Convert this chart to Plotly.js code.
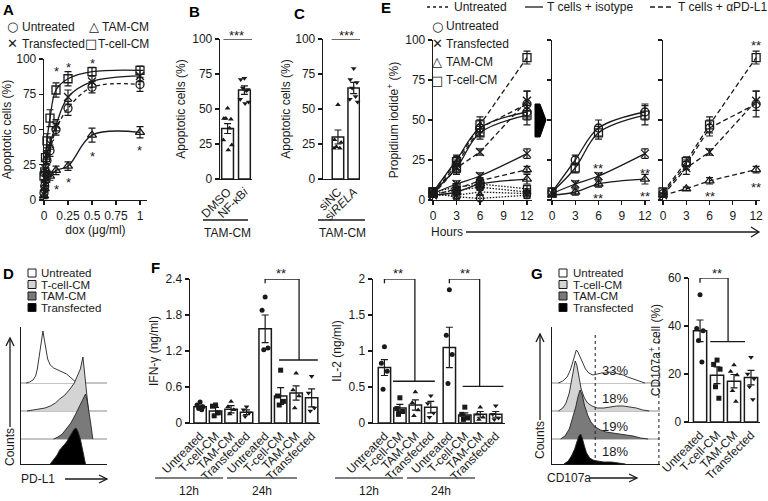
<!DOCTYPE html>
<html><head><meta charset="utf-8">
<script src="https://cdn.plot.ly/plotly-3.0.1.min.js"></script>
<style>html,body{margin:0;padding:0;background:#fff}#chart{width:768px;height:501px}</style>
</head><body><div id="chart"></div>
<script>
// ================= DATA =================
// Panel A: apoptosis vs dox dose
const doseA = [0, 0.0078, 0.0156, 0.031, 0.0625, 0.125, 0.25, 0.5, 1];
const aUntreated = [5, 10, 20, 28, 35, 50, 65, 80, 82];
const aUntreatedErr = [2, 2, 3, 3, 4, 4, 5, 4, 5];
const aTransfected = [4, 12, 22, 32, 40, 53, 73, 84, 88];
const aTransfectedErr = [2, 2, 3, 3, 4, 4, 5, 4, 4];
const aTam = [3, 8, 14, 18, 17, 21, 24, 46, 48];
const aTamErr = [2, 2, 2, 3, 3, 3, 3, 5, 4];
const aTcell = [17, 20, 30, 42, 58, 78, 86, 91, 92];
const aTcellErr = [3, 3, 4, 5, 6, 5, 5, 3, 3];
const aStarsUpDose = [0.125, 0.25, 0.5];
const aStarsUpY = [94, 97, 99.5];
const aStarsDownDose = [0.125, 0.25, 0.5, 1];
const aStarsDownY = [10.5, 15.5, 34, 38];

// Panel B
const bCats = ['DMSO', 'NF-κB<i>i</i>'];
const bMean = [36, 63.5];
const bErr = [3.5, 3];
const bPtsDMSO = [50.5, 43.3, 42.6, 43.3, 36.2, 27.9, 24.3, 20.7];
const bPtsNF = [72, 71, 64, 65, 63, 57, 55, 54];

// Panel C
const cCats = ['siNC', 'si<i>RELA</i>'];
const cMean = [30, 65];
const cErr = [5, 4];
const cPtsNC = [53, 28, 26, 23, 22, 22];
const cPtsRELA = [79, 71, 69, 65, 59, 57, 55];

// Panel E: propidium iodide over time
const eHours = [0, 3, 6, 12];
const eIsoUntreated = [5, 25, 45, 55];
const eIsoUntreatedErr = [2, 3, 5, 5];
const eIsoTcell = [5, 20, 42, 53];
const eIsoTcellErr = [2, 3, 4, 6];
const eIsoTransfected = [4, 10, 15, 29];
const eIsoTransfectedErr = [1, 2, 2, 3];
const eIsoTam = [3, 5, 10, 13];
const eIsoTamErr = [1, 2, 2, 3];
const ePdUntreated = [4, 22, 45, 60];
const ePdUntreatedErr = [2, 3, 5, 8];
const ePdTcell = [5, 24, 47, 89];
const ePdTcellErr = [2, 3, 5, 4];
const ePdTransfected = [3, 20, 30, 62];
const ePdTransfectedErr = [1, 4, 2, 6];
const ePdTam = [3, 7, 12, 19];
const ePdTamErr = [1, 1, 2, 2];
const eCtrlUntreated = [4, 2, 1, 3];
const eCtrlTransfected = [3, 3, 5, 4];
const eCtrlTam = [4, 6, 8, 5];
const eCtrlTcell = [5, 8, 10, 7];
const eCtrlErr = [1, 2, 2, 2];
const eMidStarsX = [6, 6, 12, 12];
const eMidStarsY = [22, 3.5, 19, 5];
const eRightStarsX = [6, 12, 12];
const eRightStarsY = [5, 99, 10.5];

// Panel D: PD-L1 histograms (bin centre, count)
const dUntreatedX = [6, 10, 14, 17, 19, 21, 23, 24.5, 25.5, 27, 29, 31, 34, 38, 43, 48, 53, 57, 61, 65];
const dUntreatedY = [0, 1, 3, 7, 14, 25, 40, 48, 52, 44, 32, 24, 18, 15, 13, 11, 9, 6, 3, 0];
const dTcellX = [7, 15, 22, 28, 34, 40, 45, 51, 57, 62, 66, 69, 71, 72, 73, 75, 77, 78.5];
const dTcellY = [0, 1, 2, 3, 5, 8, 12, 16, 22, 28, 36, 42, 50, 54, 46, 30, 12, 0];
const dTamX = [38, 43, 48, 53, 58, 63, 68, 72, 74, 75, 77, 79, 81, 83.5];
const dTamY = [0, 2, 5, 10, 16, 24, 33, 40, 43, 45, 38, 28, 16, 0];
const dTransX = [34, 38, 42, 45, 49, 53, 57, 60, 62, 64, 66, 69, 72, 75];
const dTransY = [0, 4, 9, 14, 18, 22, 28, 32, 35, 36, 33, 25, 12, 0];

// Panel F
const fCats = ['Untreated', 'T-cell-CM', 'TAM-CM', 'Transfected', 'Untreated', 'T-cell-CM', 'TAM-CM', 'Transfected'];
const fGroups = ['12h', '24h'];
const fIfnMean = [0.27, 0.20, 0.23, 0.18, 1.57, 0.45, 0.50, 0.42];
const fIfnErr = [0.03, 0.06, 0.06, 0.04, 0.23, 0.14, 0.12, 0.15];
const fIfnPts = [[0.35, 0.30, 0.27, 0.24, 0.22], [0.30, 0.28, 0.17, 0.12], [0.36, 0.27, 0.22, 0.15], [0.27, 0.22, 0.17, 0.11],
                 [2.10, 1.88, 1.25, 1.22], [0.88, 0.45, 0.36, 0.30], [0.83, 0.55, 0.45, 0.25], [0.78, 0.50, 0.25, 0.20]];
const fIl2Mean = [0.77, 0.21, 0.25, 0.22, 1.05, 0.11, 0.12, 0.12];
const fIl2Err = [0.11, 0.05, 0.07, 0.08, 0.28, 0.03, 0.04, 0.04];
const fIl2Pts = [[1.06, 0.83, 0.72, 0.47], [0.35, 0.20, 0.16, 0.12], [0.43, 0.28, 0.18, 0.10], [0.38, 0.27, 0.14, 0.08],
                 [1.85, 1.22, 0.95, 0.55], [0.22, 0.12, 0.07, 0.05], [0.22, 0.12, 0.08, 0.05], [0.24, 0.12, 0.07, 0.05]];

// Panel G
const gCats = ['Untreated', 'T-cell-CM', 'TAM-CM', 'Transfected'];
const gMean = [38, 19.5, 17, 18.5];
const gErr = [4.5, 3.5, 2.8, 3];
const gPts = [[53, 39, 38, 34, 25], [25.8, 24, 22, 14.7, 9.9], [23.7, 21, 19.6, 13, 8.5], [27, 20, 18, 14.7, 9.4]];
const gPct = ['33%', '18%', '19%', '18%'];
const gUntreatedX = [6, 10, 14, 17, 19, 21, 22.5, 24, 26, 28, 31, 34, 38, 42, 46, 50, 54, 58, 62, 66, 70, 75, 80, 86];
const gUntreatedY = [0, 2, 6, 13, 20, 27, 33, 31, 26, 20, 14, 10, 8, 9, 10, 10, 11, 10, 9, 8, 6, 4, 2, 0];
const gTcellX = [6, 10, 13, 16, 18, 20, 21.5, 23, 25, 27, 30, 33, 37, 42, 48, 54, 60, 66, 72, 78, 84, 90];
const gTcellY = [0, 3, 8, 18, 30, 42, 50, 46, 35, 22, 13, 8, 5, 3, 3, 4, 5, 5, 4, 3, 1, 0];
const gTamX = [8, 12, 16, 19, 22, 24, 26, 28, 30, 33, 36, 40, 45, 50, 56, 62, 68, 75, 82, 89];
const gTamY = [0, 3, 10, 20, 32, 42, 49, 44, 34, 24, 17, 12, 9, 7, 6, 5, 4, 3, 1, 0];
const gTransX = [11, 15, 18, 21, 23, 25, 26.5, 28, 30, 32, 35, 38, 42, 48, 55, 62, 68];
const gTransY = [0, 3, 8, 15, 22, 28, 30, 26, 18, 11, 6, 4, 3, 2, 2, 1, 0];

// ================= LAYOUT / STYLE =================
const W = 768, H = 501;
const FONT = '"Liberation Sans", Arial, Helvetica, sans-serif';
const SYMFONT = '"DejaVu Sans", sans-serif';
const INK = '#1a1a1a';
const HIST_OFFSETS = [81, 53, 25, 0]; // untreated, T-cell, TAM, transfected baselines
const HIST_FILLS = ['#ffffff', '#d4d4d4', '#7a7a7a', '#000000'];
const GROUP_GAP = 0.2;
const JIT = [0, -0.22, 0.2, -0.1, 0.12, -0.25, 0.25, 0.04];

const layout = {
  width: W, height: H, autosize: false,
  margin: {l: 0, r: 0, t: 0, b: 0, pad: 0},
  paper_bgcolor: '#ffffff', plot_bgcolor: 'rgba(0,0,0,0)',
  showlegend: false,
  font: {family: FONT, size: 12, color: INK},
  shapes: [], annotations: []
};
const rf = id => (id === 1 ? '' : String(id));
function xa(id, x0, x1, range, opt) {
  layout['xaxis' + rf(id)] = Object.assign({
    domain: [x0 / W, x1 / W], range: range, anchor: 'y' + rf(id),
    showline: true, linecolor: INK, linewidth: 1.3, ticks: 'outside', ticklen: 4, tickwidth: 1.3, tickcolor: INK,
    showgrid: false, zeroline: false, fixedrange: true, tickfont: {family: FONT, size: 12, color: INK}
  }, opt || {});
}
function ya(id, yTop, yBot, range, opt) {
  layout['yaxis' + rf(id)] = Object.assign({
    domain: [1 - yBot / H, 1 - yTop / H], range: range, anchor: 'x' + rf(id),
    showline: true, linecolor: INK, linewidth: 1.3, ticks: 'outside', ticklen: 4, tickwidth: 1.3, tickcolor: INK,
    showgrid: false, zeroline: false, fixedrange: true, tickfont: {family: FONT, size: 12, color: INK}
  }, opt || {});
}
const ttl = (t, standoff) => ({text: t, font: {family: FONT, size: 12, color: INK}, standoff: standoff});

// Axes
xa(1, 44, 147, [0, 1.073], {tickvals: [0, 0.25, 0.5, 0.75, 1], ticktext: ['0', '0.25', '0.5', '0.75', '1'], title: ttl('dox (μg/ml)', 2)});
ya(1, 59, 200, [0, 100], {tickvals: [0, 25, 50, 75, 100], title: ttl('Apoptotic cells (%)', 6)});
xa(2, 220, 252, [-0.45, 1.45], {tickvals: [0, 1], ticktext: bCats, tickangle: -45, ticks: ''});
ya(2, 39, 179, [0, 100], {tickvals: [0, 25, 50, 75, 100], title: ttl('Apoptotic cells (%)', 4)});
xa(3, 323, 360, [-0.95, 1.4], {tickvals: [0, 1], ticktext: cCats, tickangle: -45, ticks: ''});
ya(3, 39, 179, [0, 100], {tickvals: [0, 25, 50, 75, 100], title: ttl('Apoptotic cells (%)', 2)});
xa(4, 433, 532, [0, 12.64], {tickvals: [0, 3, 6, 9, 12]});
ya(4, 40, 200, [0, 100], {tickvals: [0, 25, 50, 75, 100], title: ttl('Propidium iodide<sup>+</sup> (%)', 4)});
xa(5, 552, 650, [0, 12.65], {tickvals: [0, 3, 6, 9, 12]});
ya(5, 40, 200, [0, 100], {tickvals: [0, 25, 50, 75, 100], showticklabels: false});
xa(6, 663, 760, [0, 12.5], {tickvals: [0, 3, 6, 9, 12]});
ya(6, 40, 200, [0, 100], {tickvals: [0, 25, 50, 75, 100], showticklabels: false});
xa(7, 21, 107, [0, 100], {ticks: '', showticklabels: false});
ya(7, 327, 464, [0, 137], {ticks: '', showticklabels: false});
const fPos = fCats.map((c, i) => i + (i >= 4 ? GROUP_GAP : 0));
xa(8, 190, 320, [-0.65, 7.74], {tickvals: fPos, ticktext: fCats, tickangle: -45, ticks: ''});
ya(8, 279, 423, [0, 2.4], {tickvals: [0, 0.6, 1.2, 1.8, 2.4], ticktext: ['0', '0.6', '1.2', '1.8', '2.4'], title: ttl('IFN-γ (ng/ml)', 4)});
xa(9, 373, 505, [-0.74, 7.8], {tickvals: fPos, ticktext: fCats, tickangle: -45, ticks: ''});
ya(9, 279, 423, [0, 2], {tickvals: [0, 0.5, 1, 1.5, 2], ticktext: ['0', '0.5', '1', '1.5', '2'], title: ttl('IL-2 (ng/ml)', 4)});
xa(10, 552, 660, [0, 100], {ticks: '', showticklabels: false});
ya(10, 327, 464, [0, 137], {ticks: '', showticklabels: false});
xa(11, 689, 760, [-0.65, 3.53], {tickvals: [0, 1, 2, 3], ticktext: gCats, tickangle: -45, ticks: ''});
ya(11, 278, 422, [0, 60], {tickvals: [0, 20, 40, 60], title: ttl('CD107a<sup>+</sup> cell (%)', 4)});

// ================= TRACES =================
const traces = [];
function sc(id, x, y, o) {
  traces.push(Object.assign({type: 'scatter', x: x, y: y, xaxis: 'x' + rf(id), yaxis: 'y' + rf(id), cliponaxis: false, hoverinfo: 'skip'}, o));
}
const errY = arr => ({type: 'data', array: arr, visible: true, color: INK, thickness: 1.2, width: 3.5});
function lineSeries(id, x, y, err, symbol, dash, shape, size) {
  sc(id, x, y, {
    mode: 'lines+markers',
    line: {color: INK, width: 1.3, dash: dash, shape: shape, smoothing: 1},
    marker: {symbol: symbol, size: size || 8, color: INK, line: {color: INK, width: 1.3}},
    error_y: err ? errY(err) : undefined
  });
}
const SYM = {u: 'circle-open', x: 'x-thin-open', tam: 'triangle-up-open', t: 'square-open'};
const DASH = '5px,3px', DOT = '1.5px,1.5px';

// A
lineSeries(1, doseA, aTam, aTamErr, SYM.tam, 'solid', 'spline');
lineSeries(1, doseA, aUntreated, aUntreatedErr, SYM.u, '4px,3px', 'spline');
lineSeries(1, doseA, aTransfected, aTransfectedErr, SYM.x, 'solid', 'spline');
lineSeries(1, doseA, aTcell, aTcellErr, SYM.t, 'solid', 'spline');

// bars helper
function bars(id, pos, mean, err, width) {
  traces.push({type: 'bar', x: pos, y: mean, width: width, xaxis: 'x' + rf(id), yaxis: 'y' + rf(id), hoverinfo: 'skip',
    marker: {color: '#ffffff', line: {color: INK, width: 1.5}}, error_y: errY(err)});
}
function pts(id, center, vals, symbol, spread) {
  sc(id, vals.map((v, k) => center + JIT[k % JIT.length] * spread), vals,
    {mode: 'markers', marker: {symbol: symbol, size: 5, color: INK}});
}
// B
bars(2, [0, 1], bMean, bErr, 0.7);
pts(2, 0, bPtsDMSO, 'triangle-up', 1);
pts(2, 1, bPtsNF, 'triangle-down', 1);
// C
bars(3, [0, 1], cMean, cErr, 0.73);
pts(3, 0, cPtsNC, 'triangle-up', 1);
pts(3, 1, cPtsRELA, 'triangle-down', 1);

// E left: untreated (no T cells) dotted, isotype solid, anti-PD-L1 dashed
lineSeries(4, eHours, eCtrlUntreated, eCtrlErr, SYM.u, DOT, 'linear', 7);
lineSeries(4, eHours, eCtrlTransfected, eCtrlErr, SYM.x, DOT, 'linear', 7);
lineSeries(4, eHours, eCtrlTam, eCtrlErr, SYM.tam, DOT, 'linear', 7);
lineSeries(4, eHours, eCtrlTcell, eCtrlErr, SYM.t, DOT, 'linear', 7);
const isoSets = [[eIsoUntreated, eIsoUntreatedErr, SYM.u], [eIsoTcell, eIsoTcellErr, SYM.t], [eIsoTransfected, eIsoTransfectedErr, SYM.x], [eIsoTam, eIsoTamErr, SYM.tam]];
const pdSets = [[ePdUntreated, ePdUntreatedErr, SYM.u], [ePdTcell, ePdTcellErr, SYM.t], [ePdTransfected, ePdTransfectedErr, SYM.x], [ePdTam, ePdTamErr, SYM.tam]];
isoSets.forEach(s => lineSeries(4, eHours, s[0], s[1], s[2], 'solid', 'spline'));
pdSets.forEach(s => lineSeries(4, eHours, s[0], s[1], s[2], DASH, 'linear'));
isoSets.forEach(s => lineSeries(5, eHours, s[0], s[1], s[2], 'solid', 'spline'));
pdSets.forEach(s => lineSeries(6, eHours, s[0], s[1], s[2], DASH, 'linear'));

// Histograms (D and G)
function histo(id, xs, ys, k, xmax) {
  const off = HIST_OFFSETS[k];
  if (off > 0) sc(id, [0, xmax], [off, off], {mode: 'lines', line: {color: '#8a8a8a', width: 1}});
  sc(id, xs, ys.map(v => v + off), {mode: 'lines', fill: 'toself', fillcolor: HIST_FILLS[k], line: {color: '#222', width: 0.9}});
}
histo(7, dUntreatedX, dUntreatedY, 0, 100);
histo(7, dTcellX, dTcellY, 1, 100);
histo(7, dTamX, dTamY, 2, 100);
histo(7, dTransX, dTransY, 3, 100);
histo(10, gUntreatedX, gUntreatedY, 0, 100);
histo(10, gTcellX, gTcellY, 1, 100);
histo(10, gTamX, gTamY, 2, 100);
histo(10, gTransX, gTransY, 3, 100);

// F
const fSym = ['circle', 'square', 'triangle-up', 'triangle-down'];
bars(8, fPos, fIfnMean, fIfnErr, 0.8);
fIfnPts.forEach((p, i) => pts(8, fPos[i], p, fSym[i % 4], 0.9));
bars(9, fPos, fIl2Mean, fIl2Err, 0.8);
fIl2Pts.forEach((p, i) => pts(9, fPos[i], p, fSym[i % 4], 0.9));

// G bars
bars(11, [0, 1, 2, 3], gMean, gErr, 0.78);
gPts.forEach((p, i) => pts(11, i, p, fSym[i], 0.9));

// ================= ANNOTATIONS & SHAPES =================
const A = layout.annotations, S = layout.shapes;
function ann(text, x, y, o) {
  A.push(Object.assign({xref: 'paper', yref: 'paper', x: x / W, y: 1 - y / H, text: text, showarrow: false,
    xanchor: 'center', yanchor: 'middle', borderpad: 0, font: {family: FONT, size: 12, color: INK}}, o || {}));
}
function dann(id, text, x, y, o) {
  A.push(Object.assign({xref: 'x' + rf(id), yref: 'y' + rf(id), x: x, y: y, text: text, showarrow: false,
    xanchor: 'center', yanchor: 'middle', borderpad: 0, font: {family: FONT, size: 13, color: INK}}, o || {}));
}
function pline(x0, y0, x1, y1, o) {
  S.push(Object.assign({type: 'line', xref: 'paper', yref: 'paper', x0: x0 / W, y0: 1 - y0 / H, x1: x1 / W, y1: 1 - y1 / H,
    line: {color: INK, width: 1.3}}, o || {}));
}
function dline(id, x0, y0, x1, y1, o) {
  S.push(Object.assign({type: 'line', xref: 'x' + rf(id), yref: 'y' + rf(id), x0: x0, y0: y0, x1: x1, y1: y1,
    line: {color: INK, width: 1.3}}, o || {}));
}
function ppath(points, o) {
  const d = points.map((p, i) => (i ? 'L' : 'M') + (p[0] / W).toFixed(5) + ',' + (1 - p[1] / H).toFixed(5)).join('');
  S.push(Object.assign({type: 'path', xref: 'paper', yref: 'paper', path: d, line: {color: INK, width: 1.3}}, o || {}));
}

// panel letters
[['A', 8, 10], ['B', 194, 11], ['C', 299, 13], ['E', 386, 8], ['D', 8, 273], ['F', 155, 267], ['G', 537, 273]]
  .forEach(l => ann('<b>' + l[0] + '</b>', l[1], l[2], {font: {family: FONT, size: 15, color: '#000'}}));

// A legend
function symLegend(sym, sx, tx, y, label) {
  ann(sym, sx, y, {font: {family: SYMFONT, size: 13, color: INK}});
  ann(label, tx, y, {xanchor: 'left'});
}
symLegend('○', 12, 21, 27, 'Untreated');
symLegend('✕', 12, 21, 44, 'Transfected');
symLegend('△', 94, 101, 27, 'TAM-CM');
symLegend('□', 91, 97, 44, 'T-cell-CM');
// A stars
aStarsUpDose.forEach((d, i) => dann(1, '*', d, aStarsUpY[i], {yshift: -4}));
aStarsDownDose.forEach((d, i) => dann(1, '*', d, aStarsDownY[i], {yshift: -4}));

// significance stars anchored at the top of an axis range, lifted by pixels
function topStars(id, text, x, yTop, liftPx) { dann(id, text, x, yTop, {yshift: liftPx - 3}); }

// B / C significance and group labels
dline(2, -0.25, 100, 1.45, 100);
topStars(2, '***', 0.5, 100, 7);
dline(3, -0.4, 100, 1.4, 100);
topStars(3, '***', 0.55, 100, 7);
pline(203, 220, 248, 220);
ann('TAM-CM', 227, 233);
pline(318, 220, 365, 220);
ann('TAM-CM', 342, 233);

// E legends
pline(427, 7, 450, 7, {line: {color: INK, width: 1.3, dash: 'dot'}});
ann('Untreated', 453, 7, {xanchor: 'left'});
pline(525, 7, 543, 7);
ann('T cells + isotype', 546, 7, {xanchor: 'left'});
pline(650, 7, 673, 7, {line: {color: INK, width: 1.3, dash: '5px,3px'}});
ann('T cells + αPD-L1', 677, 7, {xanchor: 'left'});
symLegend('○', 437, 445, 26, 'Untreated');
symLegend('✕', 437, 445, 44, 'Transfected');
symLegend('△', 437, 445, 62, 'TAM-CM');
symLegend('□', 437, 445, 80, 'T-cell-CM');
eMidStarsX.forEach((x, i) => dann(5, '**', x, eMidStarsY[i], {yshift: -4}));
eRightStarsX.forEach((x, i) => dann(6, '**', x, eRightStarsY[i], {yshift: -4}));
// block arrow between panels
ppath([[535, 104], [540, 104], [546, 120], [540, 137], [535, 137], [535, 104]], {fillcolor: '#000', line: {color: '#000', width: 1}});
// Hours arrow
ann('Hours', 447, 232);
pline(466, 232, 759, 232);
ppath([[751, 227], [759, 232], [751, 237]]);

// D legend and axis labels
const legNames = ['Untreated', 'T-cell-CM', 'TAM-CM', 'Transfected'];
const legRows = [273, 284.5, 296, 307.5];
function boxLegend(bx, tx) {
  legNames.forEach((n, k) => {
    S.push({type: 'rect', xref: 'paper', yref: 'paper', x0: bx / W, x1: (bx + 8) / W, y0: 1 - (legRows[k] + 4) / H, y1: 1 - (legRows[k] - 4) / H,
      fillcolor: HIST_FILLS[k], line: {color: INK, width: 1}});
    ann(n, tx, legRows[k], {xanchor: 'left', font: {family: FONT, size: 11.5, color: INK}});
  });
}
boxLegend(28, 40);
boxLegend(559, 572);
ann('Counts', 10, 447, {textangle: -90});
pline(10, 427, 10, 338);
ppath([[6, 346], [10, 338], [14, 346]]);
ann('PD-L1', 38, 479);
pline(65, 479, 107, 479);
ppath([[99, 475], [107, 479], [99, 483]]);

// G histogram labels
ann('Counts', 540, 440, {textangle: -90});
pline(540, 420, 540, 334);
ppath([[536, 342], [540, 334], [544, 342]]);
ann('CD107a', 569, 478);
pline(590, 478, 637, 478);
ppath([[629, 474], [637, 478], [629, 482]]);
dline(10, 40, 0, 40, 131, {line: {color: INK, width: 1, dash: 'dot'}});
dline(10, 99, 0, 99, 131, {line: {color: INK, width: 1, dash: 'dot'}});
gPct.forEach((t, k) => dann(10, t, 58, HIST_OFFSETS[k] + 13, {font: {family: FONT, size: 13, color: INK}}));

// brackets (F and G)
function bracket(id, xl, xr, ytop, yl, lo0, lo1, ylow, starX, liftPx) {
  dline(id, xl, yl, xl, ytop);
  dline(id, xl, ytop, xr, ytop);
  dline(id, xr, ytop, xr, ylow);
  dline(id, lo0, ylow, lo1, ylow);
  topStars(id, '**', starX, ytop, liftPx);
}
bracket(8, fPos[4], 6.39, 2.4, 2.33, 5.1, 7.6, 1.05, 5.25, 9);
bracket(9, fPos[0], 1.97, 2.0, 1.94, 0.55, 3.26, 0.58, 0.9, 9);
bracket(9, fPos[4], 6.16, 2.0, 1.94, 5.06, 7.7, 0.51, 5.2, 9);
// F group lines
[[155, 223, 0], [227, 297, 1], [335, 403, 0], [407, 475, 1]].forEach(g => {
  pline(g[0], 478, g[1], 478, {line: {color: '#555', width: 1.5}});
  ann(fGroups[g[2]], (g[0] + g[1]) / 2, 491);
});
// G bracket
bracket(11, 0, 1.65, 60, 58, 0.6, 2.65, 33.5, 0.98, 8);

Plotly.newPlot('chart', traces, layout, {displayModeBar: false, staticPlot: true});
</script>
</body></html>
